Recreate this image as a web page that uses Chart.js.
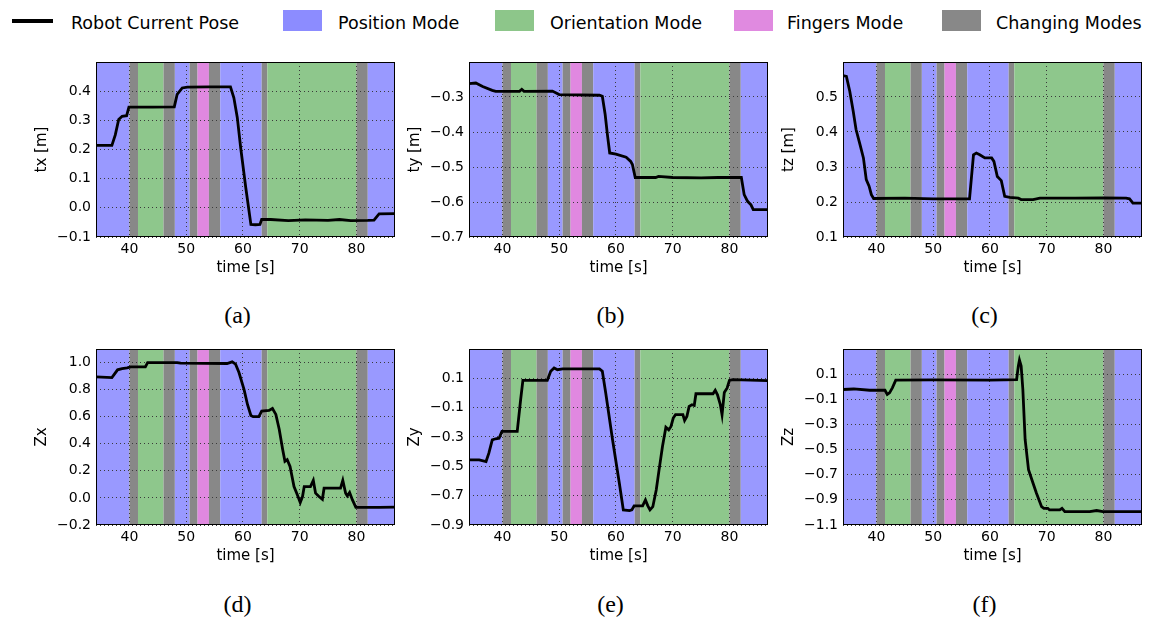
<!DOCTYPE html>
<html>
<head>
<meta charset="utf-8">
<script src="https://cdn.jsdelivr.net/npm/chart.js@4.4.0/dist/chart.umd.min.js"></script>
<style>
  body { margin: 0; background: #fff; }
  #wrap { position: relative; width: 1153px; height: 617px; overflow: hidden; font-family: "DejaVu Sans", sans-serif; }
  canvas { position: absolute; }
  .lg { position: absolute; font-size: 17.5px; line-height: 22px; top: 12px; white-space: nowrap; color: #000; }
  .box { position: absolute; top: 10px; width: 39px; height: 21px; }
  .cap { position: absolute; width: 60px; text-align: center; font-family: "Liberation Serif", serif; font-size: 24px; line-height: 26px; }
</style>
</head>
<body>
<div id="wrap">
  <div style="position:absolute;left:12px;top:19px;width:41px;height:4px;background:#000"></div>
  <div class="lg" style="left:71px">Robot Current Pose</div>
  <div class="box" style="left:283px;background:#8c8cff"></div>
  <div class="lg" style="left:338px">Position Mode</div>
  <div class="box" style="left:495px;background:#8dc68a"></div>
  <div class="lg" style="left:550px">Orientation Mode</div>
  <div class="box" style="left:734px;background:#e08ae0"></div>
  <div class="lg" style="left:787px">Fingers Mode</div>
  <div class="box" style="left:942px;background:#888888"></div>
  <div class="lg" style="left:996px">Changing Modes</div>
</div>
<script>
// time axis shared by every panel
var xMin = 34.1, xMax = 86.8;
var xTicks = [40, 50, 60, 70, 80];

// mode bands (seconds) and which mode is active in each
var bandEdges = [34, 40, 41.5, 46, 48, 50.6, 52, 54, 56, 63.3, 64.3, 80, 82, 87];
var bandModes = ['pos', 'chg', 'ori', 'chg', 'pos', 'chg', 'fin', 'chg', 'pos', 'chg', 'ori', 'chg', 'pos'];
var modeColor = { pos: '#9999ff', ori: '#8ec78c', fin: '#e088e0', chg: '#888888' };

// (a) tx
var tA = [34.1, 36.9, 37.5, 38.1, 38.7, 39.5, 39.9, 44, 47.9, 48.4, 49.3, 50.2, 54, 57.8, 58.4, 59.0, 59.6, 60.5, 61.4, 62.2, 63.0, 63.3, 64.9, 68, 71, 75, 77, 79, 82, 83.1, 83.6, 84.0, 86.8];
var vA = [0.214, 0.214, 0.25, 0.303, 0.314, 0.316, 0.345, 0.345, 0.346, 0.389, 0.411, 0.414, 0.415, 0.415, 0.377, 0.31, 0.206, 0.069, -0.057, -0.058, -0.057, -0.04, -0.04, -0.044, -0.041, -0.043, -0.04, -0.044, -0.043, -0.042, -0.03, -0.021, -0.02];
var ticksA = [-0.1, 0, 0.1, 0.2, 0.3, 0.4];

// (b) ty
var tB = [34, 35.3, 36.5, 38.2, 38.8, 43.0, 43.4, 43.8, 48.8, 50.0, 57.1, 57.6, 58.1, 58.5, 58.9, 60.0, 61.8, 62.6, 62.9, 63.4, 67, 67.5, 70, 75, 78, 82.1, 82.6, 83.2, 83.8, 84.2, 86.8];
var vB = [-0.262, -0.26, -0.27, -0.281, -0.284, -0.284, -0.278, -0.284, -0.283, -0.293, -0.295, -0.298, -0.35, -0.408, -0.46, -0.463, -0.472, -0.484, -0.493, -0.53, -0.53, -0.527, -0.53, -0.531, -0.53, -0.53, -0.579, -0.598, -0.608, -0.622, -0.622];
var ticksB = [-0.7, -0.6, -0.5, -0.4, -0.3];

// (c) tz
var tC = [34.1, 34.7, 35.3, 35.9, 36.4, 37.1, 37.7, 38.2, 38.7, 39.1, 39.5, 45, 50, 56.4, 57.1, 57.6, 58.2, 59.1, 60.3, 60.7, 61.3, 62.0, 62.6, 63.5, 65.0, 65.5, 67.6, 68.8, 75, 80, 84.0, 84.6, 85.2, 86.8];
var vC = [0.561, 0.559, 0.516, 0.459, 0.407, 0.364, 0.326, 0.264, 0.245, 0.221, 0.21, 0.211, 0.209, 0.209, 0.335, 0.34, 0.335, 0.326, 0.326, 0.316, 0.273, 0.261, 0.216, 0.213, 0.211, 0.207, 0.207, 0.211, 0.211, 0.212, 0.211, 0.209, 0.197, 0.197];
var ticksC = [0.1, 0.2, 0.3, 0.4, 0.5];

// (d) Zx
var tD = [34.1, 36.9, 37.9, 38.7, 39.6, 40.2, 42.8, 43.2, 48.4, 49.0, 57.2, 58.1, 58.7, 59.3, 60.2, 60.8, 61.4, 61.8, 62.8, 63.3, 64.6, 65.2, 65.8, 66.4, 67.0, 67.4, 67.8, 68.3, 69.0, 69.6, 70.1, 70.5, 70.8, 71.9, 72.4, 72.8, 73.4, 74.0, 74.3, 77.2, 77.6, 78.1, 78.4, 78.8, 79.3, 79.9, 84, 86.8];
var vD = [0.894, 0.889, 0.946, 0.955, 0.96, 0.968, 0.968, 1.0, 1.0, 0.995, 0.993, 1.005, 0.988, 0.926, 0.80, 0.69, 0.609, 0.60, 0.60, 0.641, 0.646, 0.661, 0.617, 0.505, 0.357, 0.27, 0.283, 0.233, 0.084, 0.022, -0.034, 0.01, 0.084, 0.084, 0.129, 0.035, 0.01, -0.01, 0.072, 0.072, 0.129, 0.035, 0.015, 0.04, -0.015, -0.069, -0.07, -0.068];
var ticksD = [-0.2, 0, 0.2, 0.4, 0.6, 0.8, 1.0];

// (e) Zy
var tE = [34, 35.9, 37.1, 37.6, 38.2, 38.8, 39.4, 39.9, 42.6, 43.2, 43.6, 47.9, 48.5, 49.1, 49.7, 50.6, 57.1, 57.6, 58.2, 59.4, 60.6, 61.3, 62.4, 62.8, 63.2, 64.7, 65.2, 65.6, 66.0, 66.5, 67.1, 67.6, 68.2, 68.8, 69.3, 69.7, 70.1, 70.5, 71.8, 72.1, 72.5, 72.9, 73.4, 73.8, 74.1, 77.1, 77.5, 77.9, 78.4, 78.7, 79.1, 79.6, 80.0, 80.6, 86.7];
var vE = [-0.456, -0.456, -0.467, -0.41, -0.319, -0.312, -0.308, -0.262, -0.262, -0.046, 0.086, 0.086, 0.148, 0.171, 0.159, 0.164, 0.164, 0.148, 0.0, -0.319, -0.615, -0.797, -0.802, -0.797, -0.77, -0.77, -0.729, -0.768, -0.797, -0.775, -0.661, -0.524, -0.365, -0.233, -0.251, -0.228, -0.171, -0.148, -0.148, -0.187, -0.16, -0.091, -0.08, -0.085, -0.005, -0.005, 0.018, -0.012, -0.08, -0.148, 0.004, 0.034, 0.086, 0.091, 0.084];
var ticksE = [-0.9, -0.7, -0.5, -0.3, -0.1, 0.1];

// (f) Zz
var tF = [34.1, 36, 38.8, 41.5, 41.9, 42.3, 42.8, 43.4, 50, 60, 64.7, 65.0, 65.2, 65.5, 65.8, 66.2, 66.8, 67.6, 68.2, 69.1, 69.5, 70.2, 70.5, 72.3, 72.7, 73.2, 77.6, 78.8, 79.9, 86.9];
var vF = [-0.022, -0.018, -0.028, -0.028, -0.062, -0.049, -0.009, 0.052, 0.054, 0.053, 0.057, 0.164, 0.212, 0.164, -0.022, -0.42, -0.661, -0.768, -0.847, -0.954, -0.967, -0.967, -0.98, -0.98, -0.967, -0.994, -0.994, -0.985, -0.994, -0.994];
var ticksF = [-1.1, -0.9, -0.7, -0.5, -0.3, -0.1, 0.1];

var panels = [
  { cap: '(a)', title: 'tx [m]', t: tA, v: vA, ticks: ticksA, min: -0.1, max: 0.5,  left: 96,  top: 62,  h: 175, capY: 302 },
  { cap: '(b)', title: 'ty [m]', t: tB, v: vB, ticks: ticksB, min: -0.7, max: -0.2, left: 469, top: 62,  h: 175, capY: 302 },
  { cap: '(c)', title: 'tz [m]', t: tC, v: vC, ticks: ticksC, min: 0.1,  max: 0.6,  left: 843, top: 62,  h: 175, capY: 302 },
  { cap: '(d)', title: 'Zx',     t: tD, v: vD, ticks: ticksD, min: -0.2, max: 1.1,  left: 96,  top: 349, h: 176, capY: 591 },
  { cap: '(e)', title: 'Zy',     t: tE, v: vE, ticks: ticksE, min: -0.9, max: 0.3,  left: 469, top: 349, h: 176, capY: 591 },
  { cap: '(f)', title: 'Zz',     t: tF, v: vF, ticks: ticksF, min: -1.1, max: 0.3,  left: 843, top: 349, h: 176, capY: 591 }
];

var PW = 299, YW = 64, XH = 40, PADT = 18, PADR = 8;

var bandPlugin = {
  id: 'bands',
  beforeDraw: function (chart) {
    var ctx = chart.ctx, a = chart.chartArea, xs = chart.scales.x;
    ctx.save();
    ctx.beginPath();
    ctx.rect(a.left, a.top, a.right - a.left, a.bottom - a.top);
    ctx.clip();
    for (var i = 0; i < bandModes.length; i++) {
      var x0 = xs.getPixelForValue(bandEdges[i]);
      var x1 = xs.getPixelForValue(bandEdges[i + 1]);
      ctx.fillStyle = modeColor[bandModes[i]];
      ctx.fillRect(x0, a.top, x1 - x0, a.bottom - a.top);
    }
    ctx.restore();
  },
  afterDraw: function (chart) {
    var ctx = chart.ctx, a = chart.chartArea;
    ctx.save();
    ctx.strokeStyle = '#000';
    ctx.lineWidth = 1;
    ctx.strokeRect(a.left + 0.5, a.top + 0.5, a.right - a.left - 1, a.bottom - a.top - 1);
    ctx.restore();
  }
};

function fmt(v) {
  return Number(v).toFixed(1).replace('-', '\u2212');
}

var wrap = document.getElementById('wrap');

panels.forEach(function (p) {
  var cv = document.createElement('canvas');
  var w = YW + PW + PADR, h = PADT + p.h + XH;
  cv.width = w; cv.height = h;
  cv.style.left = (p.left - YW) + 'px';
  cv.style.top = (p.top - PADT) + 'px';
  cv.style.width = w + 'px'; cv.style.height = h + 'px';
  wrap.appendChild(cv);

  var cap = document.createElement('div');
  cap.className = 'cap';
  cap.textContent = p.cap;
  cap.style.left = (p.left + PW / 2 - 38) + 'px';
  cap.style.top = p.capY + 'px';
  wrap.appendChild(cap);

  var pts = p.t.map(function (t, i) { return { x: t, y: p.v[i] }; });

  new Chart(cv, {
    type: 'line',
    data: {
      datasets: [{
        data: pts,
        borderColor: '#000',
        borderWidth: 2.8,
        pointRadius: 0,
        tension: 0,
        fill: false
      }]
    },
    options: {
      responsive: false,
      animation: false,
      layout: { padding: { top: PADT, right: PADR, left: 0, bottom: 0 } },
      plugins: { legend: { display: false }, tooltip: { enabled: false } },
      scales: {
        x: {
          type: 'linear', min: xMin, max: xMax,
          afterBuildTicks: function (s) { s.ticks = xTicks.map(function (v) { return { value: v }; }); },
          afterFit: function (s) { s.height = XH; },
          ticks: { font: { family: 'DejaVu Sans', size: 14 }, color: '#000', padding: 4, maxRotation: 0,
                   callback: function (v) { return String(v); } },
          grid: { color: '#3a3a3a', drawTicks: false, lineWidth: 1 },
          border: { display: false, dash: [1, 3] },
          title: { display: true, text: 'time [s]', color: '#000', font: { family: 'DejaVu Sans', size: 15 },
                   padding: { top: 0, bottom: 0 } }
        },
        y: {
          min: p.min, max: p.max,
          afterBuildTicks: function (s) { s.ticks = p.ticks.map(function (v) { return { value: v }; }); },
          afterFit: function (s) { s.width = YW; },
          ticks: { font: { family: 'DejaVu Sans', size: 14 }, color: '#000', padding: 5,
                   callback: function (v) { return fmt(v); } },
          grid: { color: '#3a3a3a', drawTicks: false, lineWidth: 1 },
          border: { display: false, dash: [1, 3] },
          title: { display: true, text: p.title, color: '#000', font: { family: 'DejaVu Sans', size: 15 },
                   padding: { top: 1, bottom: 0 } }
        }
      }
    },
    plugins: [bandPlugin]
  });
});
</script>
</body>
</html>
